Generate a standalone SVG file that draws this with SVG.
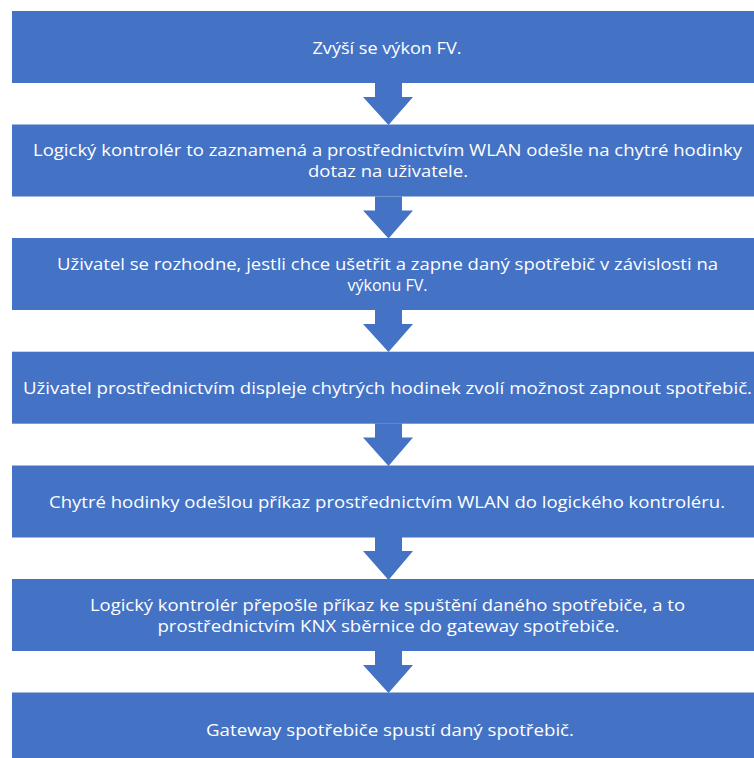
<svg xmlns="http://www.w3.org/2000/svg" width="754" height="758" viewBox="0 0 754 758">
<style>
.box{fill:#4472C4;}
.t{font-family:"Open Sans","Liberation Sans",sans-serif;font-size:16px;fill:#FFFFFF;text-anchor:middle;}
.arr{fill:#4472C4;}
</style>
<rect width="754" height="758" fill="#FFFFFF"/>
<g id="connectors">
<path class="arr" d="M375,83 H402 V97 H413 L388.5,125 L363,97 H375 Z"/>
<path class="arr" d="M375,196.5 H402 V210.5 H413 L388.5,238.5 L363,210.5 H375 Z"/>
<path class="arr" d="M375,310 H402 V324 H413 L388.5,352 L363,324 H375 Z"/>
<path class="arr" d="M375,423.5 H402 V437.5 H413 L388.5,466 L363,437.5 H375 Z"/>
<path class="arr" d="M375,537 H402 V551 H413 L388.5,580 L363,551 H375 Z"/>
<path class="arr" d="M375,651 H402 V665 H413 L388.5,693 L363,665 H375 Z"/>
</g>
<g id="n1">
<rect class="box" x="12" y="11" width="760" height="72"/>
<text class="t" x="387" y="53.5" textLength="149" lengthAdjust="spacingAndGlyphs">Zvýší se výkon FV.</text>
</g>
<g id="n2">
<rect class="box" x="12" y="124.5" width="760" height="72"/>
<text class="t" x="387.5" y="156" textLength="709" lengthAdjust="spacingAndGlyphs">Logický kontrolér to zaznamená a prostřednictvím WLAN odešle na chytré hodinky</text>
<text class="t" x="388" y="177" textLength="160" lengthAdjust="spacingAndGlyphs">dotaz na uživatele.</text>
</g>
<g id="n3">
<rect class="box" x="12" y="238" width="760" height="72"/>
<text class="t" x="387.5" y="270" textLength="661" lengthAdjust="spacingAndGlyphs">Uživatel se rozhodne, jestli chce ušetřit a zapne daný spotřebič v závislosti na</text>
<text class="t" x="387.5" y="291" textLength="80" lengthAdjust="spacingAndGlyphs">výkonu FV.</text>
</g>
<g id="n4">
<rect class="box" x="12" y="351.7" width="760" height="72"/>
<text class="t" x="387.5" y="394" textLength="729" lengthAdjust="spacingAndGlyphs">Uživatel prostřednictvím displeje chytrých hodinek zvolí možnost zapnout spotřebič.</text>
</g>
<g id="n5">
<rect class="box" x="12" y="465.5" width="760" height="72"/>
<text class="t" x="387" y="508" textLength="676" lengthAdjust="spacingAndGlyphs">Chytré hodinky odešlou příkaz prostřednictvím WLAN do logického kontroléru.</text>
</g>
<g id="n6">
<rect class="box" x="12" y="579" width="760" height="72"/>
<text class="t" x="387.5" y="610.5" textLength="595" lengthAdjust="spacingAndGlyphs">Logický kontrolér přepošle příkaz ke spuštění daného spotřebiče, a to</text>
<text class="t" x="388.5" y="631.5" textLength="462" lengthAdjust="spacingAndGlyphs">prostřednictvím KNX sběrnice do gateway spotřebiče.</text>
</g>
<g id="n7">
<rect class="box" x="12" y="692.5" width="760" height="72"/>
<text class="t" x="390" y="736" textLength="368" lengthAdjust="spacingAndGlyphs">Gateway spotřebiče spustí daný spotřebič.</text>
</g>
</svg>
